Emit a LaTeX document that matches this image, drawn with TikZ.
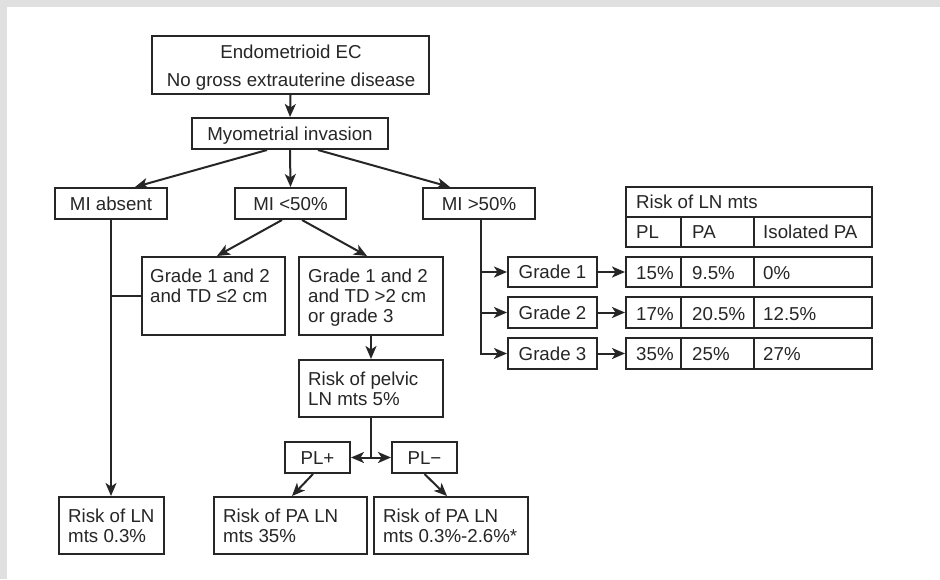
\documentclass[tikz,border=0pt]{standalone}
\usepackage{fontspec}
\setmainfont{Liberation Sans}
\usetikzlibrary{arrows.meta}
\begin{document}
\begin{tikzpicture}[x=1pt,y=-1pt,
  ink/.style={draw=black!85, line width=2pt},
  box/.style={ink, rectangle, inner sep=0pt, text=black!85, text height=13.4pt, text depth=0pt},
  lbl/.style={inner sep=0pt, text=black!85, anchor=base west},
  ctr/.style={inner sep=0pt, text=black!85, anchor=base},
  arr/.style={ink, -{Stealth[length=13pt,width=11pt,inset=3.5pt]}},
  font=\fontsize{18.7}{20.3}\selectfont]
\useasboundingbox (0,0) rectangle (940,579);
\fill[black!12] (0,0) rectangle (940,579);
\fill[white] (7,7) rectangle (940,579);

% boxes
\node[box, minimum width=277pt, minimum height=58pt] (top) at (290.5,65) {};
\node[ctr] (toptxta) at (291,58) {Endometrioid EC};
\node[ctr] (toptxtb) at (291,86) {No gross extrauterine disease};
\node[box, minimum width=196pt, minimum height=31pt] (myo) at (290,133.5) {Myometrial invasion};
\node[box, minimum width=112pt, minimum height=31pt] (miabs) at (111,203.5) {MI absent};
\node[box, minimum width=111pt, minimum height=31pt] (milt) at (290.5,203.5) {MI <50\%};
\node[box, minimum width=112pt, minimum height=31pt] (migt) at (479,203.5) {MI >50\%};

\node[box, minimum width=143pt, minimum height=78pt] (g12a) at (213.5,296) {};
\node[lbl] (g12aa) at (150,282) {Grade 1 and 2};
\node[lbl] (g12ab) at (150,302.5) {and TD ≤2 cm};

\node[box, minimum width=144pt, minimum height=78pt] (g12b) at (371,296) {};
\node[lbl] (g12ba) at (308,282) {Grade 1 and 2};
\node[lbl] (g12bb) at (308,302.5) {and TD >2 cm};
\node[lbl] (g12bc) at (308,322.5) {or grade 3};

\node[box, minimum width=144pt, minimum height=57pt] (pelvic) at (371,388.5) {};
\node[lbl] (pelvica) at (308,385) {Risk of pelvic};
\node[lbl] (pelvicb) at (308,405) {LN mts 5\%};

\node[box, minimum width=65pt, minimum height=31pt] (plp) at (317.5,457.5) {PL+};
\node[box, minimum width=65pt, minimum height=31pt] (plm) at (424.5,457.5) {PL−};

\node[box, minimum width=105pt, minimum height=57pt] (rln) at (111.5,525.5) {};
\node[lbl] (rlna) at (68,522) {Risk of LN};
\node[lbl] (rlnb) at (68,542) {mts 0.3\%};

\node[box, minimum width=153pt, minimum height=57pt] (rpa1) at (290.5,525.5) {};
\node[lbl] (rpa1a) at (223,522) {Risk of PA LN};
\node[lbl] (rpa1b) at (223,542) {mts 35\%};

\node[box, minimum width=154pt, minimum height=57pt] (rpa2) at (451,525.5) {};
\node[lbl] (rpa2a) at (383,522) {Risk of PA LN};
\node[lbl] (rpa2b) at (383,542) {mts 0.3\%-2.6\%*};

\node[box, minimum width=89pt, minimum height=30pt] (g1) at (552.5,272) {Grade 1};
\node[box, minimum width=89pt, minimum height=31pt] (g2) at (552.5,312.5) {Grade 2};
\node[box, minimum width=89pt, minimum height=31pt] (g3) at (552.5,353.5) {Grade 3};

% table
\node[box, minimum width=246pt, minimum height=60pt] (thead) at (749,217) {};
\node[box, minimum width=246pt, minimum height=30pt] (t1) at (749,272) {};
\node[box, minimum width=246pt, minimum height=31pt] (t2) at (749,312.5) {};
\node[box, minimum width=246pt, minimum height=31pt] (t3) at (749,353.5) {};
\draw[ink] (thead.west) -- (thead.east);
\foreach \r in {t1,t2,t3}{
  \draw[ink] ([xshift=56pt]\r.north west) -- ([xshift=56pt]\r.south west);
  \draw[ink] ([xshift=129pt]\r.north west) -- ([xshift=129pt]\r.south west);
}
\draw[ink] ([xshift=56pt]thead.west) -- ([xshift=56pt]thead.south west);
\draw[ink] ([xshift=129pt]thead.west) -- ([xshift=129pt]thead.south west);

\node[lbl] (th) at (636,208.5) {Risk of LN mts};
\node[lbl] (tpl) at (636,238) {PL};
\node[lbl] (tpa) at (692,238) {PA};
\node[lbl] (tiso) at (763,238) {Isolated PA};
\node[lbl] (c11) at (636,279) {15\%};
\node[lbl] (c12) at (692,279) {9.5\%};
\node[lbl] (c13) at (763,279) {0\%};
\node[lbl] (c21) at (636,320) {17\%};
\node[lbl] (c22) at (692,320) {20.5\%};
\node[lbl] (c23) at (763,320) {12.5\%};
\node[lbl] (c31) at (636,360) {35\%};
\node[lbl] (c32) at (692,360) {25\%};
\node[lbl] (c33) at (763,360) {27\%};

% connectors
\draw[arr] (top.south) -- (myo.north);
\draw[arr] ([xshift=-23pt]myo.south) -- ([xshift=24pt]miabs.north);
\draw[arr] (myo.south) -- (milt.north);
\draw[arr] ([xshift=28pt]myo.south) -- ([xshift=-29pt]migt.north);
\draw[arr] ([xshift=-8.5pt]milt.south) -- ([xshift=3.5pt]g12a.north);
\draw[arr] ([xshift=11.5pt]milt.south) -- ([xshift=-4pt]g12b.north);
\draw[arr] (miabs.south) -- (miabs.south |- rln.north);
\draw[ink] (g12a.west) -- (g12a.west -| miabs.south);
\draw[arr] (g12b.south) -- (pelvic.north);
\coordinate (split) at (pelvic.south |- plp.east);
\draw[ink] (pelvic.south) -- (split);
\draw[arr] (split) -- (plp.east);
\draw[arr] (split) -- (plm.west);
\draw[arr] ([xshift=-4.5pt]plp.south) -- ([xshift=1.5pt]rpa1.north);
\draw[arr] (plm.south) -- ([xshift=-4pt]rpa2.north);
\coordinate (mgx) at ([xshift=2pt]migt.south);
\draw[arr] (mgx) |- (g3.west);
\draw[arr] (mgx |- g1.west) -- (g1.west);
\draw[arr] (mgx |- g2.west) -- (g2.west);
\draw[arr] (g1.east) -- (t1.west);
\draw[arr] (g2.east) -- (t2.west);
\draw[arr] (g3.east) -- (t3.west);
\end{tikzpicture}
\end{document}
